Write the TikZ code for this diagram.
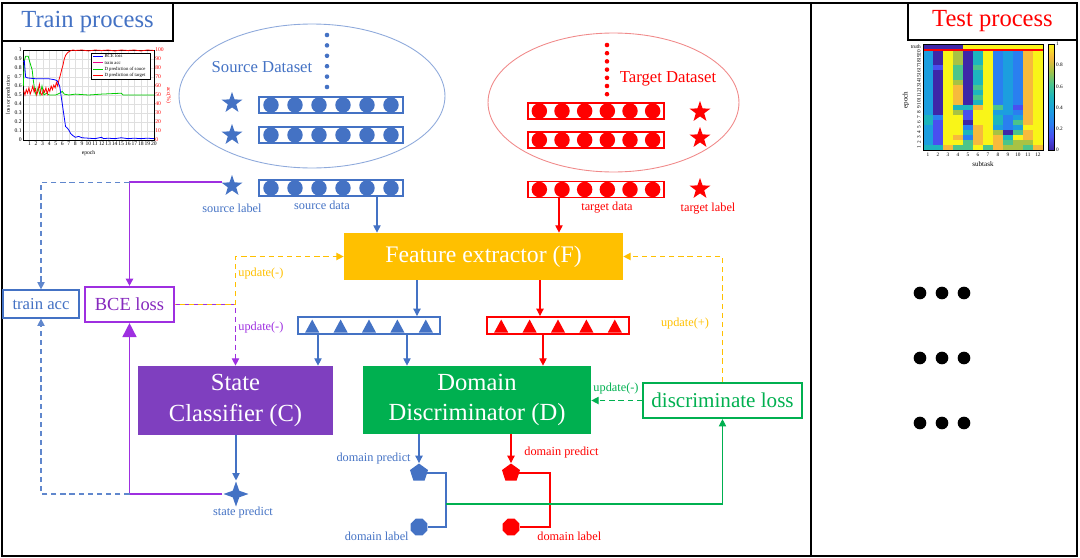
\documentclass[tikz,border=0pt]{standalone}
\usepackage{fontspec}
\setmainfont{Liberation Serif}
\usetikzlibrary{shapes.geometric,arrows.meta,calc}
\definecolor{srcBlue}{HTML}{4472C4}
\definecolor{tgtRed}{HTML}{FF0000}
\definecolor{gold}{HTML}{FFC000}
\definecolor{clsPurple}{HTML}{7F3FBF}
\definecolor{lossPurple}{HTML}{9E2FE0}
\definecolor{grn}{HTML}{00B050}
\definecolor{ellBlue}{HTML}{8EA9DB}
\definecolor{ellRed}{HTML}{F08A8A}
% parula-like colour steps for the heat map
\definecolor{p0}{HTML}{3E26A8}
\definecolor{p1}{HTML}{4A4FF0}
\definecolor{p2}{HTML}{2A7FF0}
\definecolor{p3}{HTML}{1C9EDF}
\definecolor{p4}{HTML}{1DB5BE}
\definecolor{p5}{HTML}{4CC48A}
\definecolor{p6}{HTML}{A8C244}
\definecolor{p7}{HTML}{F7BA3C}
\definecolor{p8}{HTML}{F9F518}
\tikzset{
  arr/.style={-{Triangle[length=4.2pt,width=4.2pt]}},
  blueLine/.style={draw=srcBlue, line width=0.6pt},
  redLine/.style={draw=tgtRed, line width=0.6pt},
  grnLine/.style={draw=grn, line width=0.6pt},
  purpLine/.style={draw=lossPurple, line width=0.9pt},
  blueDash/.style={draw=srcBlue!85, line width=0.7pt, dash pattern=on 3pt off 2.2pt},
  goldDash/.style={draw=gold, line width=0.7pt, dash pattern=on 3pt off 2.2pt},
  purpDash/.style={draw=lossPurple, line width=0.7pt, dash pattern=on 3pt off 2.2pt},
  grnDash/.style={draw=grn, line width=0.7pt, dash pattern=on 3pt off 2.2pt},
  titleBox/.style={rectangle, draw, line width=0.8pt, fill=white, inner sep=0, font=\fontsize{14}{16}\selectfont},
  dataBar/.style={rectangle, line width=1.1pt, minimum height=0.32cm, inner sep=0},
  featBar/.style={rectangle, line width=1.1pt, minimum width=2.84cm, minimum height=0.34cm, inner sep=0},
  solidBox/.style={rectangle, text=white, inner sep=0, align=center, font=\fontsize{14}{17.5}\selectfont},
  lineBox/.style={rectangle, fill=white, inner sep=0},
  lblS/.style={font=\fontsize{7}{8}\selectfont, inner sep=0},
  lblBlue/.style={lblS, text=srcBlue},
  lblRed/.style={lblS, text=tgtRed},
  setLbl/.style={inner sep=0, font=\fontsize{9.5}{11}\selectfont},
  dataStar/.style={star, star points=5, star point ratio=2.5, minimum size=0.44cm, inner sep=0},
  pentShape/.style={regular polygon, regular polygon sides=5, minimum size=0.38cm, inner sep=0},
  octShape/.style={regular polygon, regular polygon sides=8, minimum size=0.36cm, inner sep=0},
  plotTick/.style={inner sep=0.6pt, font=\fontsize{3.2}{3.5}\selectfont},
  legTxt/.style={inner sep=0, anchor=west, font=\fontsize{2.7}{3}\selectfont},
  hmTick/.style={inner sep=0.5pt, font=\fontsize{3}{3.3}\selectfont},
  hmLbl/.style={inner sep=0, font=\fontsize{4}{4.5}\selectfont},
}
% bar of six data points: name, x, y, colour, width (px)
\newcommand{\DataBar}[5]{%
  \node[dataBar, draw=#4, minimum width=#5*0.02cm] (#1) at (#2,#3) {};
  \foreach \k in {0,...,5}
    \fill[#4] ({#2-#5/2+(\k+0.5)*#5/6},#3) circle (4.4pt);
}
% bar of five features: name, x, y, colour
\newcommand{\FeatBar}[4]{%
  \node[featBar, draw=#4] (#1) at (#2,#3) {};
  \foreach \k in {0,...,4}
    \fill[#4] ({#2-71+(\k+0.5)*28.4-7},#3+7) -- ++(14,0) -- ++(-7,-13) -- cycle;
}

\begin{document}
\begin{tikzpicture}[x=0.02cm, y=-0.02cm]
  \useasboundingbox (0,0) rectangle (1080,558);

  % frames
  \draw[line width=1.3pt] (2,3) rectangle (1077,556);
  \draw[line width=1pt] (811,3) -- (811,556);
  \node[titleBox, text=srcBlue, minimum width=3.42cm, minimum height=0.76cm] (trainT) at (87.5,22) {Train process};
  \node[titleBox, text=tgtRed, minimum width=3.38cm, minimum height=0.74cm] (testT) at (992.5,21.5) {Test process};

  % training curves
  \begin{scope}[shift={(23,140)}, x=0.131cm, y=1.8cm]
    \draw[gray!25, line width=0.15pt] (0,0) grid[xstep=1, ystep=0.1] (20,1);
    \draw[line width=0.3pt] (0,0) rectangle (20,1);
    \foreach \t [count=\i from 0] in {0,0.1,0.2,0.3,0.4,0.5,0.6,0.7,0.8,0.9,1}
      \node[plotTick, anchor=east] (py\i) at (0,\i/10) {\t};
    \foreach \t [count=\i from 0] in {0,10,20,30,40,50,60,70,80,90,100}
      \node[plotTick, anchor=west, text=tgtRed] (pr\i) at (20,\i/10) {\t};
    \foreach \k in {1,...,20}
      \node[plotTick, anchor=north] (px\k) at (\k,0) {\k};
    \node[plotTick] (pxT) at (10,-0.15) {epoch};
    \node[plotTick, rotate=90] (pyT) at (-2.2,0.5) {loss or prediction};
    \node[plotTick, rotate=-90, text=tgtRed] (prT) at (22.2,0.5) {acc(\%)};
    \draw[green!80!black, line width=0.45pt] plot coordinates {(0.05,0.6) (0.2,0.88) (0.4,0.93) (0.8,0.93) (1.1,0.85) (1.4,0.78) (1.6,0.65) (1.8,0.55) (2,0.5) (2.3,0.58) (2.6,0.5) (2.9,0.6) (3.2,0.5) (3.6,0.52) (4,0.5) (5,0.5) (5.6,0.52) (6,0.54) (6.3,0.51) (7,0.5) (8,0.51) (10,0.5) (12,0.51) (15,0.52) (15.3,0.5) (20,0.5)};
    \draw[red, line width=0.45pt] plot coordinates {(0.1,0.55) (0.3,0.5) (0.5,0.56) (0.7,0.52) (0.9,0.58) (1.1,0.51) (1.3,0.55) (1.5,0.6) (1.7,0.53) (1.9,0.57) (2.1,0.5) (2.3,0.55) (2.5,0.62) (2.7,0.52) (2.9,0.5) (3.1,0.56) (3.3,0.53) (3.5,0.58) (3.7,0.51) (3.9,0.57) (4.1,0.54) (4.3,0.6) (4.5,0.56) (4.7,0.61) (4.9,0.58) (5.1,0.64) (5.3,0.6) (5.5,0.67) (5.7,0.72) (5.9,0.78) (6.1,0.83) (6.3,0.9) (6.5,0.94) (6.8,0.97) (7.2,0.99) (7.6,1) (8,0.995) (9,1) (10,0.99) (11,1) (12,0.995) (13,1) (14,0.99) (15,1) (16,0.995) (17,1) (18,0.99) (19,1) (20,0.995)};
    \draw[blue, line width=0.45pt] plot coordinates {(0.05,0.87) (0.2,0.88) (0.4,0.7) (0.7,0.69) (2,0.68) (4,0.68) (4.8,0.67) (5.2,0.66) (5.6,0.6) (5.9,0.45) (6.2,0.3) (6.5,0.15) (6.8,0.13) (7,0.11) (7.3,0.07) (7.6,0.05) (8,0.03) (8.5,0.04) (9,0.025) (10,0.02) (11,0.015) (12,0.03) (12.3,0.015) (13,0.02) (14,0.015) (15,0.025) (16,0.015) (17,0.02) (18,0.015) (19,0.02) (20,0.015)};
    % legend
    \draw[fill=white, line width=0.2pt] (10.4,0.967) rectangle (19.4,0.678);
    \foreach \c/\t [count=\i] in {blue/BCE loss, magenta/train acc, green!80!black/D prediction of souce, red/D prediction of target} {
      \draw[\c, line width=0.4pt] (10.7,1-\i*0.07) -- (12.2,1-\i*0.07);
      \node[legTxt] (leg\i) at (12.4,1-\i*0.07) {\t};
    }
  \end{scope}

  % test heat map
  \begin{scope}[shift={(923,50)}, x=0.2cm, y=-0.1cm]
    \foreach \row [count=\r] in {
      {3,0,8,6,0,4,8,2,3,2,7,8},{3,0,8,6,0,4,8,2,3,2,7,8},{3,0,8,6,0,4,8,2,3,2,7,8},
      {3,1,8,5,0,5,8,2,3,2,7,8},{3,0,8,5,0,4,8,2,3,2,7,8},{3,0,8,5,0,4,8,2,3,2,7,8},
      {3,0,8,6,0,4,8,2,3,2,7,8},{3,0,8,7,0,5,8,2,3,2,7,8},{3,0,8,7,0,4,8,2,3,2,7,8},
      {3,0,8,7,0,5,8,2,3,2,7,8},{3,0,8,7,0,4,8,2,3,2,7,8},{3,0,8,4,4,7,8,5,3,1,7,8},
      {3,0,8,6,1,8,8,3,3,2,7,8},{4,2,8,8,1,8,8,4,2,3,7,8},{4,1,8,8,0,8,8,4,2,5,7,8},
      {3,1,8,8,2,7,8,3,2,3,8,8},{3,1,8,8,4,7,8,6,0,5,7,8},{3,1,8,7,2,7,8,7,4,8,7,8},
      {3,1,8,8,5,7,8,7,5,6,6,8},{4,4,7,5,5,8,5,7,6,6,5,7}} {
      \foreach \v [count=\c] in \row
        \fill[fill=p\v] (\c-1,\r-1) rectangle (\c,\r);
    }
    \fill[p0] (0,-1.2) rectangle (4,0);
    \fill[p8] (4,-1.2) rectangle (12,0);
    \draw[tgtRed, line width=0.6pt] (0,0) -- (12,0);
    \draw[line width=0.3pt] (0,-1.2) rectangle (12,20);
    \foreach \c in {1,...,12}
      \node[hmTick, anchor=north] (hx\c) at (\c-0.5,20.3) {\c};
    \foreach \r in {1,...,20} {
      \pgfmathtruncatemacro\ep{21-\r}
      \node[hmTick, rotate=90] (hy\r) at (-0.4,\r-0.5) {\ep};
    }
    \node[hmTick, anchor=east] (truthL) at (-0.1,-0.6) {truth};
    \node[hmLbl, rotate=90] (hyT) at (-1.7,10) {epoch};
    \node[hmLbl] (hxT) at (6,22.8) {subtask};
  \end{scope}
  \foreach \k [evaluate=\k as \n using int(\k+1)] in {0,...,7}
    \shade[bottom color=p\k, top color=p\n] (1048,{150-\k*13.25}) rectangle (1054,{150-(\k+1)*13.25});
  \draw[line width=0.3pt] (1048,44) rectangle (1054,150);
  \foreach \t [count=\i] in {0,0.2,0.4,0.6,0.8,1}
    \node[hmTick, anchor=west] (cb\i) at (1055,{150-\t*106}) {\t};

  % further test runs
  \foreach \y in {293,358,423}
    \foreach \x in {920,942,964}
      \fill (\x,\y) circle (3.6pt);

  % source data set
  \node[ellipse, draw=ellBlue, line width=0.5pt, minimum width=5.32cm, minimum height=2.88cm] (srcSet) at (312,96) {};
  \node[setLbl, text=srcBlue] (srcTxt) at (262,67) {Source Dataset};
  \foreach \k in {0,...,5}
    \fill[srcBlue] (327,{35+\k*10.4}) circle (1.3pt);
  \DataBar{srcA}{331}{105}{srcBlue}{144}
  \DataBar{srcB}{331}{135}{srcBlue}{144}
  \DataBar{srcD}{331}{188}{srcBlue}{144}
  \node[dataStar, fill=srcBlue] (sStarA) at (232,103) {};
  \node[dataStar, fill=srcBlue] (sStarB) at (232,135) {};
  \node[dataStar, fill=srcBlue] (slab) at (232,186) {};
  \node[lblBlue] (slabT) at (232,208) {source label};
  \node[lblBlue] (sdatT) at (322,205) {source data};

  % target data set
  \node[ellipse, draw=ellRed, line width=0.5pt, minimum width=5.02cm, minimum height=2.78cm] (tgtSet) at (613.5,102.5) {};
  \node[setLbl, text=tgtRed] (tgtTxt) at (668,79) {Target Dataset};
  \foreach \k in {0,...,6}
    \fill[tgtRed] (607,{45+\k*8.2}) circle (1.3pt);
  \DataBar{tgtA}{596}{111}{tgtRed}{136}
  \DataBar{tgtB}{596}{140}{tgtRed}{136}
  \DataBar{tgtD}{596}{189.5}{tgtRed}{136}
  \node[dataStar, fill=tgtRed] (tStarA) at (700,112) {};
  \node[dataStar, fill=tgtRed] (tStarB) at (700,138) {};
  \node[dataStar, fill=tgtRed] (tlab) at (700,189) {};
  \node[lblRed] (tdatT) at (607,208) {target data};
  \node[lblRed] (tlabT) at (708,209) {target label};

  % network
  \node[solidBox, fill=gold, minimum width=5.58cm, minimum height=0.94cm, font=\fontsize{13.5}{16}\selectfont] (F) at (483.5,256.5) {Feature extractor (F)};
  \FeatBar{srcT}{369}{325.5}{srcBlue}
  \FeatBar{tgtT}{558}{325.5}{tgtRed}
  \node[solidBox, fill=clsPurple, minimum width=3.9cm, minimum height=1.38cm] (C) at (235.5,400.5) {State\\Classifier (C)};
  \node[solidBox, fill=grn, minimum width=4.56cm, minimum height=1.36cm] (D) at (477,400) {Domain\\Discriminator (D)};
  \node[lineBox, draw=grn, line width=1.2pt, text=grn, minimum width=3.18cm, minimum height=0.7cm, font=\fontsize{12}{14}\selectfont] (dloss) at (722.5,400.5) {discriminate loss};
  \node[lineBox, draw=lossPurple, line width=1.2pt, text=lossPurple!85!black, minimum width=1.78cm, minimum height=0.7cm, font=\fontsize{10.5}{12}\selectfont] (BCE) at (129.5,304.5) {BCE loss};
  \node[lineBox, draw=srcBlue, line width=0.7pt, text=srcBlue, minimum width=1.52cm, minimum height=0.56cm, font=\fontsize{9.5}{11}\selectfont] (tacc) at (41,304) {train acc};

  % predictions
  \node[star, star points=4, star point ratio=2.7, fill=srcBlue, minimum size=0.5cm, inner sep=0] (spred) at (236,494) {};
  \node[lblBlue] (spredT) at (243,513) {state predict};
  \node[pentShape, fill=srcBlue] (bpred) at (419,473) {};
  \node[pentShape, fill=tgtRed] (rpred) at (511,473) {};
  \node[octShape, fill=srcBlue] (blab) at (419,527) {};
  \node[octShape, fill=tgtRed] (rlab) at (511,527) {};
  \node[lblBlue, anchor=east] (bpredT) at (411,459) {domain predict};
  \node[lblRed, anchor=west] (rpredT) at (524,453) {domain predict};
  \node[lblBlue, anchor=east] (blabT) at (409,536) {domain label};
  \node[lblRed, anchor=west] (rlabT) at (537,536) {domain label};
  \coordinate (bj) at (446,504);
  \coordinate (rj) at (550,504);

  % data flow
  \draw[blueLine, arr] (srcD.south -| 377,0) -- (F.north -| 377,0);
  \draw[redLine, arr] (tgtD.south -| 559,0) -- (F.north -| 559,0);
  \draw[blueLine, arr] (F.south -| 417,0) -- (srcT.north -| 417,0);
  \draw[redLine, arr] (F.south -| 540,0) -- (tgtT.north -| 540,0);
  \draw[blueLine, arr] (srcT.south -| 318,0) -- (C.north -| 318,0);
  \draw[blueLine, arr] (srcT.south -| 407,0) -- (D.north -| 407,0);
  \draw[redLine, arr] (tgtT.south -| 543,0) -- (D.north -| 543,0);
  \draw[blueLine, arr] (C.south -| spred.north) -- (spred.north);
  \draw[blueLine, arr] (D.south -| bpred.north) -- (bpred.north);
  \draw[redLine, arr] (D.south -| rpred.north) -- (rpred.north);
  \draw[blueLine] (bpred.east) -| (bj) |- (blab.east);
  \draw[redLine] (rpred.east) -| (rj) |- (rlab.east);
  \draw[grnLine, arr] (bj) -| (dloss.south);

  % losses
  \draw[purpLine, arr] (slab.160) -| (BCE.north);
  \draw[purpLine, -{Triangle[length=8pt,width=8pt]}] (spred.west) -| (BCE.south);
  \draw[blueDash, arr] (BCE.north |- slab.160) -| (tacc.north);
  \draw[blueDash, arr] (BCE.south |- spred.west) -| (tacc.south);

  % updates
  \draw[purpDash, arr] (BCE.east) -| (C.north);
  \draw[goldDash, dash phase=2.6pt, arr] (BCE.east) -- (BCE.east -| C.north) |- (F.west);
  \draw[goldDash, arr] (dloss.north) |- (F.east);
  \draw[grnDash, arr] (dloss.west) -- (D.east |- dloss.west);
  \node[lblS, text=gold, anchor=west] (updF) at (238,274) {update(-)};
  \node[lblS, text=lossPurple, anchor=west] (updC) at (238,328) {update(-)};
  \node[lblS, text=gold] (updP) at (685,324) {update(+)};
  \node[lblS, text=grn] (updD) at (616,389) {update(-)};
\end{tikzpicture}
\end{document}
